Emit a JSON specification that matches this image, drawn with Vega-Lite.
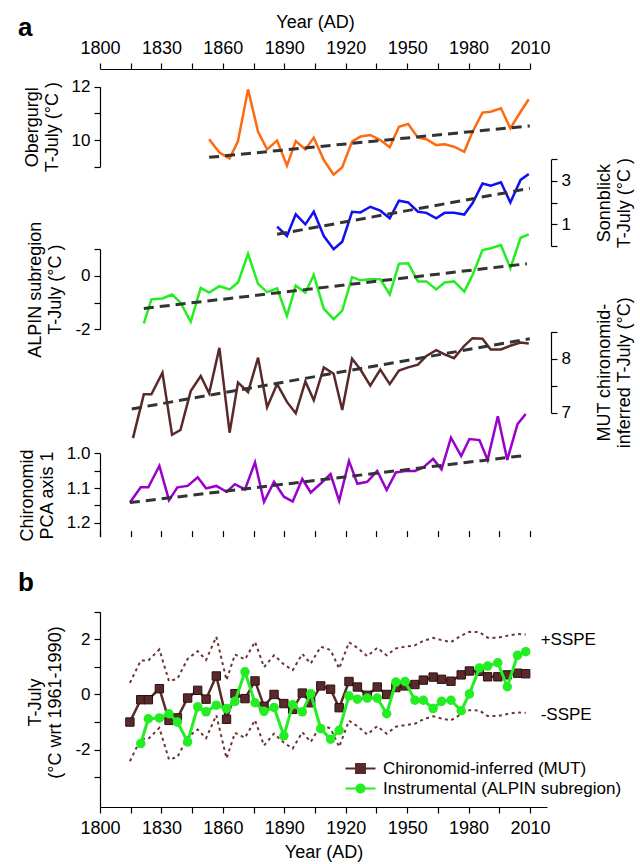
{
  "$schema": "https://vega.github.io/schema/vega-lite/v6.json",
  "autosize": "none",
  "width": 451,
  "height": 738,
  "padding": {"left": 100, "top": 69, "right": 89, "bottom": 57},
  "background": "white",
  "config": {
    "font": "Liberation Sans",
    "view": {"stroke": null},
    "axis": {"labelFont": "Liberation Sans", "titleFont": "Liberation Sans", "labelFontSize": 17, "titleFontSize": 18, "labelColor": "#000", "titleColor": "#000", "domainColor": "#000", "tickColor": "#000", "domainWidth": 1.2, "tickWidth": 1.2, "tickSize": 6, "grid": false, "titleFontWeight": "normal", "labelPadding": 4, "titlePadding": 10, "labelFlush": false, "titleLineHeight": 20}
  },
  "title": {"text": "a", "subtitle": "b", "anchor": "start", "frame": "group", "orient": "top", "font": "Liberation Sans", "subtitleFont": "Liberation Sans", "fontSize": 26, "fontWeight": "bold", "subtitleFontSize": 26, "subtitleFontWeight": "bold", "color": "#000", "subtitleColor": "#000", "subtitlePadding": 529, "offset": 0, "dx": -82, "dy": 583},
  "datasets": {
    "s": [
      {"yb":1814.6,"ya":1816.1,"mut":-1.0,"mutAbs":6.53,"alpin":null,"pca":1.142,"oberg":null,"sonn":null,"up":0.42,"lo":-2.42},
      {"yb":1819.9,"ya":1821.4,"mut":-0.19,"mutAbs":7.34,"alpin":-1.78,"pca":1.098,"oberg":null,"sonn":null,"up":1.23,"lo":-1.61},
      {"yb":1823.6,"ya":1825.1,"mut":-0.19,"mutAbs":7.34,"alpin":-0.88,"pca":1.098,"oberg":null,"sonn":null,"up":1.23,"lo":-1.61},
      {"yb":1829.0,"ya":1830.5,"mut":0.21,"mutAbs":7.74,"alpin":-0.85,"pca":1.036,"oberg":null,"sonn":null,"up":1.63,"lo":-1.21},
      {"yb":1833.7,"ya":1835.2,"mut":-0.94,"mutAbs":6.59,"alpin":-0.7,"pca":1.135,"oberg":null,"sonn":null,"up":0.48,"lo":-2.36},
      {"yb":1837.8,"ya":1839.3,"mut":-0.85,"mutAbs":6.68,"alpin":-1.0,"pca":1.098,"oberg":null,"sonn":null,"up":0.57,"lo":-2.27},
      {"yb":1842.8,"ya":1844.3,"mut":-0.13,"mutAbs":7.40,"alpin":-1.72,"pca":1.094,"oberg":null,"sonn":null,"up":1.29,"lo":-1.55},
      {"yb":1847.7,"ya":1849.2,"mut":0.15,"mutAbs":7.68,"alpin":-0.45,"pca":1.069,"oberg":null,"sonn":null,"up":1.57,"lo":-1.27},
      {"yb":1851.8,"ya":1853.3,"mut":-0.17,"mutAbs":7.36,"alpin":-0.63,"pca":1.101,"oberg":10.03,"sonn":null,"up":1.25,"lo":-1.59},
      {"yb":1856.8,"ya":1858.3,"mut":0.67,"mutAbs":8.20,"alpin":-0.39,"pca":1.094,"oberg":9.53,"sonn":null,"up":2.09,"lo":-0.75},
      {"yb":1861.8,"ya":1863.3,"mut":-0.9,"mutAbs":6.63,"alpin":-0.51,"pca":1.111,"oberg":9.31,"sonn":null,"up":0.52,"lo":-2.32},
      {"yb":1865.9,"ya":1867.4,"mut":0.03,"mutAbs":7.56,"alpin":-0.25,"pca":1.089,"oberg":9.96,"sonn":null,"up":1.45,"lo":-1.39},
      {"yb":1870.8,"ya":1872.3,"mut":-0.15,"mutAbs":7.38,"alpin":0.82,"pca":1.104,"oberg":11.9,"sonn":null,"up":1.27,"lo":-1.57},
      {"yb":1875.7,"ya":1877.2,"mut":0.49,"mutAbs":8.02,"alpin":-0.3,"pca":1.026,"oberg":10.31,"sonn":null,"up":1.91,"lo":-0.93},
      {"yb":1880.1,"ya":1881.6,"mut":-0.43,"mutAbs":7.10,"alpin":-0.61,"pca":1.14,"oberg":9.65,"sonn":null,"up":0.99,"lo":-1.85},
      {"yb":1885.0,"ya":1886.5,"mut":0.0,"mutAbs":7.53,"alpin":-0.47,"pca":1.082,"oberg":9.98,"sonn":0.89,"up":1.42,"lo":-1.42},
      {"yb":1889.8,"ya":1891.3,"mut":-0.33,"mutAbs":7.20,"alpin":-1.5,"pca":1.125,"oberg":9.04,"sonn":0.46,"up":1.09,"lo":-1.75},
      {"yb":1894.1,"ya":1895.6,"mut":-0.54,"mutAbs":6.99,"alpin":-0.37,"pca":1.139,"oberg":9.96,"sonn":1.46,"up":0.88,"lo":-1.96},
      {"yb":1898.8,"ya":1900.3,"mut":0.05,"mutAbs":7.58,"alpin":-0.63,"pca":1.074,"oberg":9.65,"sonn":1.0,"up":1.47,"lo":-1.37},
      {"yb":1902.9,"ya":1904.4,"mut":-0.3,"mutAbs":7.23,"alpin":0.03,"pca":1.113,"oberg":10.09,"sonn":1.58,"up":1.12,"lo":-1.72},
      {"yb":1907.8,"ya":1909.3,"mut":0.31,"mutAbs":7.84,"alpin":-1.24,"pca":1.087,"oberg":9.25,"sonn":0.46,"up":1.73,"lo":-1.11},
      {"yb":1912.6,"ya":1914.1,"mut":0.19,"mutAbs":7.72,"alpin":-1.62,"pca":1.06,"oberg":8.70,"sonn":-0.15,"up":1.61,"lo":-1.23},
      {"yb":1916.8,"ya":1918.3,"mut":-0.48,"mutAbs":7.05,"alpin":-1.3,"pca":1.137,"oberg":8.98,"sonn":0.2,"up":0.94,"lo":-1.9},
      {"yb":1921.6,"ya":1923.1,"mut":0.47,"mutAbs":8.00,"alpin":-0.05,"pca":1.022,"oberg":9.94,"sonn":1.58,"up":1.89,"lo":-0.95},
      {"yb":1925.7,"ya":1927.2,"mut":0.27,"mutAbs":7.80,"alpin":-0.17,"pca":1.088,"oberg":10.13,"sonn":1.55,"up":1.69,"lo":-1.15},
      {"yb":1930.5,"ya":1932.0,"mut":-0.03,"mutAbs":7.50,"alpin":-0.13,"pca":1.082,"oberg":10.19,"sonn":1.81,"up":1.39,"lo":-1.45},
      {"yb":1935.4,"ya":1936.9,"mut":0.27,"mutAbs":7.80,"alpin":-0.13,"pca":1.051,"oberg":10.0,"sonn":1.63,"up":1.69,"lo":-1.15},
      {"yb":1940.0,"ya":1941.5,"mut":0.0,"mutAbs":7.53,"alpin":-0.7,"pca":1.106,"oberg":9.73,"sonn":1.28,"up":1.42,"lo":-1.42},
      {"yb":1944.5,"ya":1946.0,"mut":0.25,"mutAbs":7.78,"alpin":0.45,"pca":1.055,"oberg":10.5,"sonn":2.09,"up":1.67,"lo":-1.17},
      {"yb":1949.0,"ya":1950.5,"mut":0.31,"mutAbs":7.84,"alpin":0.47,"pca":1.051,"oberg":10.6,"sonn":2.01,"up":1.73,"lo":-1.11},
      {"yb":1953.8,"ya":1955.3,"mut":0.36,"mutAbs":7.89,"alpin":-0.21,"pca":1.051,"oberg":10.09,"sonn":1.58,"up":1.78,"lo":-1.06},
      {"yb":1957.9,"ya":1959.4,"mut":0.52,"mutAbs":8.05,"alpin":-0.21,"pca":1.041,"oberg":10.03,"sonn":1.53,"up":1.94,"lo":-0.9},
      {"yb":1962.7,"ya":1964.2,"mut":0.63,"mutAbs":8.16,"alpin":-0.51,"pca":1.016,"oberg":9.81,"sonn":1.28,"up":2.05,"lo":-0.79},
      {"yb":1966.8,"ya":1968.3,"mut":0.55,"mutAbs":8.08,"alpin":-0.25,"pca":1.046,"oberg":9.84,"sonn":1.53,"up":1.97,"lo":-0.87},
      {"yb":1971.4,"ya":1972.9,"mut":0.48,"mutAbs":8.01,"alpin":-0.21,"pca":0.955,"oberg":9.75,"sonn":1.53,"up":1.9,"lo":-0.94},
      {"yb":1976.4,"ya":1977.9,"mut":0.71,"mutAbs":8.24,"alpin":-0.59,"pca":1.008,"oberg":9.56,"sonn":1.45,"up":2.13,"lo":-0.71},
      {"yb":1980.4,"ya":1981.9,"mut":0.85,"mutAbs":8.38,"alpin":0.02,"pca":0.959,"oberg":10.3,"sonn":1.97,"up":2.27,"lo":-0.57},
      {"yb":1985.3,"ya":1986.8,"mut":0.84,"mutAbs":8.37,"alpin":0.96,"pca":0.962,"oberg":11.03,"sonn":2.88,"up":2.26,"lo":-0.58},
      {"yb":1989.3,"ya":1990.8,"mut":0.64,"mutAbs":8.17,"alpin":1.03,"pca":1.019,"oberg":11.06,"sonn":2.78,"up":2.06,"lo":-0.78},
      {"yb":1994.3,"ya":1995.8,"mut":0.64,"mutAbs":8.17,"alpin":1.15,"pca":0.893,"oberg":11.19,"sonn":2.94,"up":2.06,"lo":-0.78},
      {"yb":1998.9,"ya":2000.4,"mut":0.71,"mutAbs":8.24,"alpin":0.28,"pca":1.019,"oberg":10.44,"sonn":2.01,"up":2.13,"lo":-0.71},
      {"yb":2003.9,"ya":2005.4,"mut":0.77,"mutAbs":8.30,"alpin":1.42,"pca":0.916,"oberg":11.06,"sonn":3.05,"up":2.19,"lo":-0.65},
      {"yb":2007.9,"ya":2009.4,"mut":0.75,"mutAbs":8.28,"alpin":1.55,"pca":0.887,"oberg":11.53,"sonn":3.32,"up":2.17,"lo":-0.67}
    ],
    "tr": [
      {"t":"oberg","ya":1853.3,"oberg":9.35},{"t":"oberg","ya":2009.9,"oberg":10.53},
      {"t":"sonn","ya":1886.5,"sonn":0.54},{"t":"sonn","ya":2009.9,"sonn":2.66},
      {"t":"alpin","ya":1821.4,"alpin":-1.22},{"t":"alpin","ya":2008.5,"alpin":0.45},
      {"t":"mut","ya":1815.5,"mutAbs":7.07},{"t":"mut","ya":2009.9,"mutAbs":8.37},
      {"t":"pca","yb":1814.6,"pca":1.142},{"t":"pca","yb":2007.9,"pca":1.006}
    ],
    "lab": [
      {"yb":2015.2,"v":1.97,"txt":"+SSPE"},
      {"yb":2015.2,"v":-0.74,"txt":"-SSPE"}
    ],
    "leg": [
      {"n":"Chironomid-inferred (MUT)"},
      {"n":"Instrumental (ALPIN subregion)"}
    ]
  },
  "layer": [
    {
      "encoding": {
        "x": {"field": "ya", "type": "quantitative", "scale": {"domain": [1800, 2010], "range": [0, 430], "nice": false, "zero": false},
              "axis": {"orient": "top", "values": [1800,1815,1830,1845,1860,1875,1890,1905,1920,1935,1950,1965,1980,1995,2010], "format": "d", "labelExpr": "datum.value % 30 == 0 ? datum.label : ''", "title": "Year (AD)", "labelFontSize": 18, "titleFontSize": 18, "labelPadding": 6, "titlePadding": 8}}
      },
      "layer": [
        {
          "encoding": {"y": {"field": "oberg", "type": "quantitative", "scale": {"domain": [9, 12], "range": [97.7, 17.7], "nice": false, "zero": false},
            "axis": {"orient": "left", "values": [9, 10, 11, 12], "labelExpr": "datum.value == 10 ? '10' : datum.value == 12 ? '12' : ''", "title": ["Obergurgl", "T-July (°C )"]}}},
          "layer": [
            {"data": {"name": "s"}, "transform": [{"filter": "isValid(datum.oberg)"}], "mark": {"type": "line", "color": "#ff6a10", "strokeWidth": 2.5}},
            {"data": {"name": "tr"}, "transform": [{"filter": "datum.t == 'oberg'"}], "mark": {"type": "line", "color": "#333333", "strokeWidth": 3, "strokeDash": [10, 6]}}
          ]
        },
        {
          "encoding": {"y": {"field": "sonn", "type": "quantitative", "scale": {"domain": [0, 4], "range": [177, 90.3], "nice": false, "zero": false},
            "axis": {"orient": "right", "values": [0, 1, 2, 3, 4], "labelExpr": "datum.value == 1 ? '1' : datum.value == 3 ? '3' : ''", "title": ["Sonnblick", "T-July (°C )"], "titleAngle": 270, "titleBaseline": "top", "titleX": 44}}},
          "layer": [
            {"data": {"name": "s"}, "transform": [{"filter": "isValid(datum.sonn)"}], "mark": {"type": "line", "color": "#1010f0", "strokeWidth": 2.5}},
            {"data": {"name": "tr"}, "transform": [{"filter": "datum.t == 'sonn'"}], "mark": {"type": "line", "color": "#333333", "strokeWidth": 3, "strokeDash": [10, 6]}}
          ]
        },
        {
          "encoding": {"y": {"field": "alpin", "type": "quantitative", "scale": {"domain": [-2, 1], "range": [260.3, 180], "nice": false, "zero": false},
            "axis": {"orient": "left", "values": [-2, -1, 0, 1], "labelExpr": "datum.value == 0 ? '0' : datum.value == -2 ? '-2' : ''", "title": ["ALPIN subregion", "T-July (°C )"]}}},
          "layer": [
            {"data": {"name": "s"}, "transform": [{"filter": "isValid(datum.alpin)"}], "mark": {"type": "line", "color": "#22ee22", "strokeWidth": 2.5}},
            {"data": {"name": "tr"}, "transform": [{"filter": "datum.t == 'alpin'"}], "mark": {"type": "line", "color": "#333333", "strokeWidth": 3, "strokeDash": [10, 6]}}
          ]
        },
        {
          "encoding": {"y": {"field": "mutAbs", "type": "quantitative", "scale": {"domain": [7, 8.5], "range": [343.7, 262.7], "nice": false, "zero": false},
            "axis": {"orient": "right", "values": [7, 7.5, 8, 8.5], "labelExpr": "datum.value == 7 ? '7' : datum.value == 8 ? '8' : ''", "title": ["MUT chironomid-", "inferred T-July (°C)"], "titleAngle": 270, "titleBaseline": "top", "titleX": 44}}},
          "layer": [
            {"data": {"name": "s"}, "transform": [{"filter": "isValid(datum.mutAbs)"}], "mark": {"type": "line", "color": "#5a2a2a", "strokeWidth": 2.5}},
            {"data": {"name": "tr"}, "transform": [{"filter": "datum.t == 'mut'"}], "mark": {"type": "line", "color": "#333333", "strokeWidth": 3, "strokeDash": [10, 6]}}
          ]
        },
        {
          "encoding": {
            "x": {"field": "yb", "type": "quantitative", "scale": {"domain": [1800, 2010], "range": [0, 430], "nice": false, "zero": false},
              "axis": {"orient": "top", "values": [1800,1815,1830,1845,1860,1875,1890,1905,1920,1935,1950,1965,1980,1995,2010], "format": "d", "labelExpr": "datum.value % 30 == 0 ? datum.label : ''", "title": "Year (AD)", "labelFontSize": 18, "titleFontSize": 18, "labelPadding": 6, "titlePadding": 8}},
            "y": {"field": "pca", "type": "quantitative", "scale": {"domain": [1.0, 1.24], "range": [384.3, 467.6], "nice": false, "zero": false},
              "axis": {"orient": "left", "values": [1.0, 1.05, 1.1, 1.15, 1.2], "labelExpr": "datum.value == 1 ? '1.0' : datum.value == 1.1 ? '1.1' : datum.value == 1.2 ? '1.2' : ''", "title": ["Chironomid", "PCA axis 1"]}}
          },
          "layer": [
            {"data": {"name": "s"}, "transform": [{"filter": "isValid(datum.pca)"}], "mark": {"type": "line", "color": "#9900cc", "strokeWidth": 2.5}},
            {"data": {"name": "tr"}, "transform": [{"filter": "datum.t == 'pca'"}], "mark": {"type": "line", "color": "#333333", "strokeWidth": 3, "strokeDash": [10, 6]}}
          ]
        }
      ],
      "resolve": {"scale": {"y": "independent"}, "axis": {"y": "independent"}}
    },
    {
      "encoding": {
        "x": {"field": "yb", "type": "quantitative", "scale": {"domain": [1800, 2018.3], "range": [0, 447], "nice": false, "zero": false},
              "axis": {"orient": "bottom", "values": [1800,1815,1830,1845,1860,1875,1890,1905,1920,1935,1950,1965,1980,1995,2010], "format": "d", "labelExpr": "datum.value % 30 == 0 ? datum.label : ''", "title": "Year (AD)", "labelFontSize": 18, "titleFontSize": 18, "labelPadding": 6, "titlePadding": 6}}
      },
      "layer": [
        {"data": {"name": "s"}, "mark": {"type": "line", "color": "#6b3535", "strokeWidth": 2, "strokeDash": [3, 3.5]},
         "encoding": {"y": {"field": "up", "type": "quantitative", "scale": {"domain": [-4.08, 3], "range": [738, 542.7], "nice": false, "zero": false},
            "axis": {"orient": "left", "values": [-3, -2, -1, 0, 1, 2, 3], "labelExpr": "datum.value == 2 ? '2' : datum.value == 0 ? '0' : datum.value == -2 ? '-2' : ''", "title": ["T-July", "(°C wrt 1961-1990)"], "titleY": 633}}}},
        {"data": {"name": "s"}, "mark": {"type": "line", "color": "#6b3535", "strokeWidth": 2, "strokeDash": [3, 3.5]},
         "encoding": {"y": {"field": "lo", "type": "quantitative", "scale": {"domain": [-4.08, 3], "range": [738, 542.7], "nice": false, "zero": false},
            "axis": {"orient": "left", "values": [-3, -2, -1, 0, 1, 2, 3], "labelExpr": "datum.value == 2 ? '2' : datum.value == 0 ? '0' : datum.value == -2 ? '-2' : ''", "title": ["T-July", "(°C wrt 1961-1990)"], "titleY": 633}}}},
        {"data": {"name": "s"}, "mark": {"type": "line", "color": "#5a2a2a", "strokeWidth": 2.5},
         "encoding": {"y": {"field": "mut", "type": "quantitative", "scale": {"domain": [-4.08, 3], "range": [738, 542.7], "nice": false, "zero": false},
            "axis": {"orient": "left", "values": [-3, -2, -1, 0, 1, 2, 3], "labelExpr": "datum.value == 2 ? '2' : datum.value == 0 ? '0' : datum.value == -2 ? '-2' : ''", "title": ["T-July", "(°C wrt 1961-1990)"], "titleY": 633}}}},
        {"data": {"name": "s"}, "mark": {"type": "point", "shape": "square", "filled": true, "color": "#5a2a2a", "stroke": "#2a1010", "strokeWidth": 1, "size": 70, "opacity": 1},
         "encoding": {"y": {"field": "mut", "type": "quantitative", "scale": {"domain": [-4.08, 3], "range": [738, 542.7], "nice": false, "zero": false},
            "axis": {"orient": "left", "values": [-3, -2, -1, 0, 1, 2, 3], "labelExpr": "datum.value == 2 ? '2' : datum.value == 0 ? '0' : datum.value == -2 ? '-2' : ''", "title": ["T-July", "(°C wrt 1961-1990)"], "titleY": 633}}}},
        {"data": {"name": "s"}, "transform": [{"filter": "isValid(datum.alpin)"}], "mark": {"type": "line", "color": "#22ee22", "strokeWidth": 3},
         "encoding": {"y": {"field": "alpin", "type": "quantitative", "scale": {"domain": [-4.08, 3], "range": [738, 542.7], "nice": false, "zero": false},
            "axis": {"orient": "left", "values": [-3, -2, -1, 0, 1, 2, 3], "labelExpr": "datum.value == 2 ? '2' : datum.value == 0 ? '0' : datum.value == -2 ? '-2' : ''", "title": ["T-July", "(°C wrt 1961-1990)"], "titleY": 633}}}},
        {"data": {"name": "s"}, "transform": [{"filter": "isValid(datum.alpin)"}], "mark": {"type": "point", "shape": "circle", "filled": true, "color": "#22ee22", "size": 90, "opacity": 1},
         "encoding": {"y": {"field": "alpin", "type": "quantitative", "scale": {"domain": [-4.08, 3], "range": [738, 542.7], "nice": false, "zero": false},
            "axis": {"orient": "left", "values": [-3, -2, -1, 0, 1, 2, 3], "labelExpr": "datum.value == 2 ? '2' : datum.value == 0 ? '0' : datum.value == -2 ? '-2' : ''", "title": ["T-July", "(°C wrt 1961-1990)"], "titleY": 633}}}},
        {"data": {"name": "lab"}, "mark": {"type": "text", "align": "left", "baseline": "middle", "fontSize": 17, "font": "Liberation Sans", "color": "#000"},
         "encoding": {"text": {"field": "txt"}, "y": {"field": "v", "type": "quantitative", "scale": {"domain": [-4.08, 3], "range": [738, 542.7], "nice": false, "zero": false},
            "axis": {"orient": "left", "values": [-3, -2, -1, 0, 1, 2, 3], "labelExpr": "datum.value == 2 ? '2' : datum.value == 0 ? '0' : datum.value == -2 ? '-2' : ''", "title": ["T-July", "(°C wrt 1961-1990)"], "titleY": 633}}}}
      ]
    },
    {
      "data": {"name": "tr"},
      "transform": [{"filter": "datum.t == 'pca'"}],
      "mark": {"type": "point", "opacity": 0},
      "encoding": {
        "x": {"field": "yb", "type": "quantitative", "scale": {"domain": [1800, 2010], "range": [0, 430], "nice": false, "zero": false},
              "axis": {"orient": "top", "offset": -467.6, "values": [1800,1815,1830,1845,1860,1875,1890,1905,1920,1935,1950,1965,1980,1995,2010], "domain": false, "labels": false, "ticks": true, "tickSize": 6, "title": null}}
      }
    },
    {
      "data": {"name": "leg"},
      "mark": {"type": "point", "filled": true, "opacity": 0},
      "encoding": {
        "shape": {"field": "n", "type": "nominal",
          "scale": {"domain": ["Chironomid-inferred (MUT)", "Instrumental (ALPIN subregion)"], "range": ["M-3,-0.22H3V0.22H-3Z M-1.1,-1.1H1.1V1.1H-1.1Z", "M-3,-0.22H3V0.22H-3Z M-1,0A1,1,0,1,1,1,0A1,1,0,1,1,-1,0Z"]},
          "legend": {"title": null, "orient": "none", "legendX": 252, "legendY": 691, "symbolSize": 100, "labelFontSize": 17, "labelFont": "Liberation Sans", "labelColor": "#000", "labelOffset": 14, "labelLimit": 0, "rowPadding": 2, "padding": 0, "symbolOpacity": 1, "symbolStrokeWidth": 0, "encode": {"symbols": {"update": {"opacity": {"value": 1}}}}}},
        "color": {"field": "n", "type": "nominal",
          "scale": {"domain": ["Chironomid-inferred (MUT)", "Instrumental (ALPIN subregion)"], "range": ["#5a2a2a", "#22ee22"]},
          "legend": {"title": null, "orient": "none", "legendX": 252, "legendY": 691, "symbolSize": 100, "labelFontSize": 17, "labelFont": "Liberation Sans", "labelColor": "#000", "labelOffset": 14, "labelLimit": 0, "rowPadding": 2, "padding": 0, "symbolOpacity": 1, "symbolStrokeWidth": 0, "encode": {"symbols": {"update": {"opacity": {"value": 1}}}}}}
      }
    }
  ],
  "resolve": {"scale": {"x": "independent", "y": "independent"}, "axis": {"x": "independent", "y": "independent"}}
}
